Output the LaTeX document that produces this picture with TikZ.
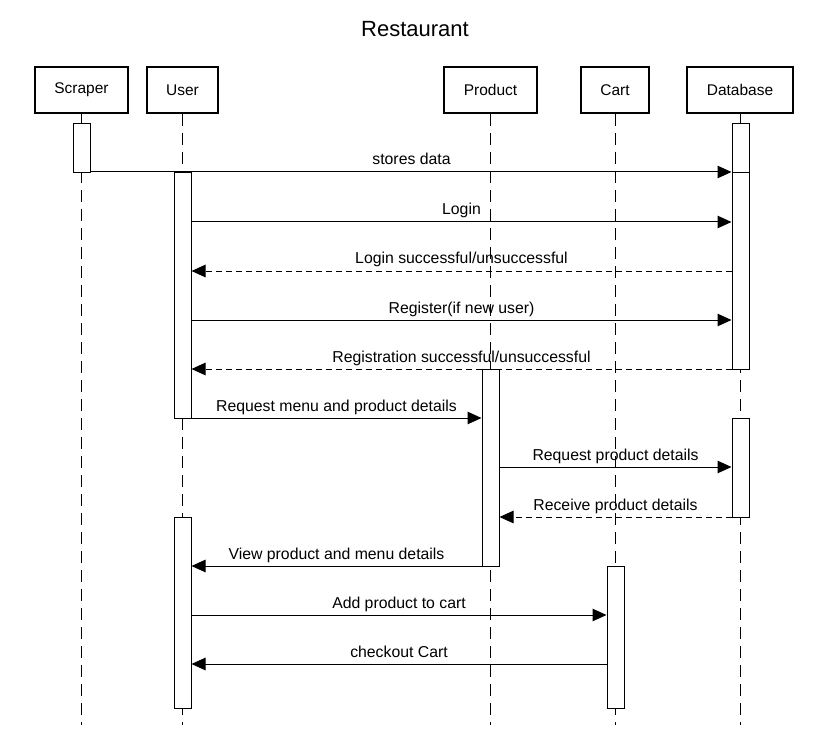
\documentclass[tikz,border=0pt]{standalone}
\usepackage{fontspec}
\setmainfont{Liberation Sans}
\usetikzlibrary{arrows.meta}
\begin{document}
\begin{tikzpicture}[x=1pt,y=-1pt,
  head/.style={draw, line width=2pt, minimum height=46pt, inner sep=0pt, font=\fontsize{15.5}{18}\selectfont},
  act/.style={draw, fill=white, line width=1pt, minimum width=17pt, inner sep=0pt, anchor=north},
  life/.style={line width=1pt, dash pattern=on 12pt off 7pt},
  msg/.style={line width=1pt, -{Triangle[length=14pt,width=12.5pt]}},
  ret/.style={msg, dash pattern=on 6pt off 4pt},
  lbl/.style={anchor=base, font=\fontsize{15.8}{18}\selectfont, inner sep=0pt}
]
\path[use as bounding box] (0,0) rectangle (822,754);

\node[anchor=base, inner sep=0pt, font=\fontsize{22}{26}\selectfont] (title) at (415,37) {Restaurant};

% heads
\node[head, minimum width=93pt] (scraper) at (81.5,90) {Scraper};
\node[head, minimum width=71pt] (user) at (182.5,90) {User};
\node[head, minimum width=93pt] (product) at (490.5,90) {Product};
\node[head, minimum width=68pt] (cart) at (615,90) {Cart};
\node[head, minimum width=106pt] (db) at (740,90) {Database};

% lifeline ends
\coordinate (scraperEnd) at (81.5,725);
\coordinate (userEnd) at (182.5,725);
\coordinate (productEnd) at (490.5,725);
\coordinate (cartEnd) at (615,725);
\coordinate (dbEnd) at (740,725);

\draw[life] (scraper.south) -- (scraperEnd);
\draw[life] (user.south) -- (userEnd);
\draw[life] (product.south) -- (productEnd);
\draw[life] (cart.south) -- (cartEnd);
\draw[life] (db.south) -- (dbEnd);

% activations
\node[act, minimum height=49pt] (s1) at (81.5,123) {};
\node[act, minimum height=49pt] (db1) at (740.5,123) {};
\node[act, minimum height=197pt] (db2) at (740.5,172) {};
\node[act, minimum height=246pt] (u1) at (182.5,172) {};
\node[act, minimum height=197pt] (p1) at (490.5,369) {};
\node[act, minimum height=99pt] (db3) at (740.5,418) {};
\node[act, minimum height=191pt] (u2) at (182.5,517) {};
\node[act, minimum height=142pt] (c1) at (615.5,566) {};

% messages
\draw[msg] (s1.east |- 0,172) -- (db1.west |- 0,172);
\node[lbl] (l1) at (411.5,165) {stores data};

\draw[msg] (u1.east |- 0,222) -- (db2.west |- 0,222);
\node[lbl] (l2) at (461.5,215) {Login};

\draw[ret] (db2.west |- 0,271) -- (u1.east |- 0,271);
\node[lbl] (l3) at (461.5,264) {Login successful/unsuccessful};

\draw[msg] (u1.east |- 0,320) -- (db2.west |- 0,320);
\node[lbl] (l4) at (461.5,313) {Register(if new user)};

\draw[ret] (db2.west |- 0,369) -- (u1.east |- 0,369);
\node[lbl] (l5) at (461.5,362) {Registration successful/unsuccessful};

\draw[msg] (u1.east |- 0,418) -- (p1.west |- 0,418);
\node[lbl] (l6) at (336.5,411) {Request menu and product details};

\draw[msg] (p1.east |- 0,467) -- (db3.west |- 0,467);
\node[lbl] (l7) at (615.5,460) {Request product details};

\draw[ret] (db3.west |- 0,517) -- (p1.east |- 0,517);
\node[lbl] (l8) at (615.5,510) {Receive product details};

\draw[msg] (p1.west |- 0,566) -- (u2.east |- 0,566);
\node[lbl] (l9) at (336.5,559) {View product and menu details};

\draw[msg] (u2.east |- 0,615) -- (c1.west |- 0,615);
\node[lbl] (l10) at (399,608) {Add product to cart};

\draw[msg] (c1.west |- 0,664) -- (u2.east |- 0,664);
\node[lbl] (l11) at (399,657) {checkout Cart};
\end{tikzpicture}
\end{document}
